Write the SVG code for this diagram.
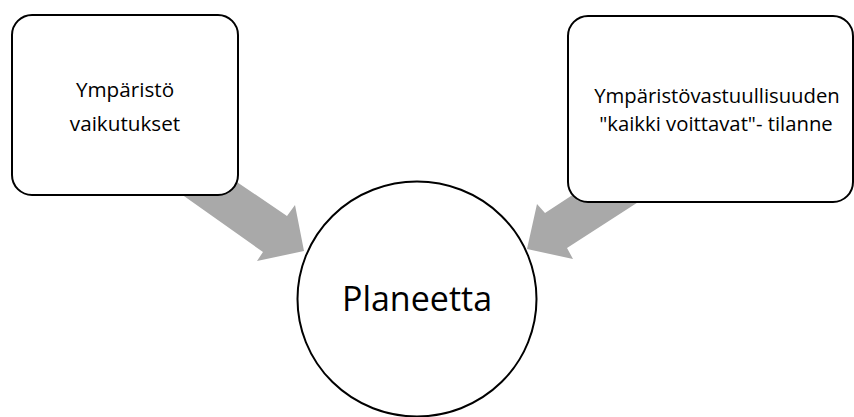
<svg xmlns="http://www.w3.org/2000/svg" width="854" height="417" viewBox="0 0 854 417">
<style>
.box{fill:#fff;stroke:#000;stroke-width:2}
.arrow{fill:#A9A9A9;stroke:none}
.t{font-family:"Open Sans","Noto Sans",sans-serif;font-size:20.7px;fill:#000;text-anchor:middle}
.r{font-size:20.3px}
.big{font-size:34px}
</style>
<rect width="854" height="417" fill="#fff"/>
<g id="connectors">
<polygon class="arrow" points="200,157 287,216 295,205 304,251 257,261 263,252 150,172"/>
<polygon class="arrow" points="600,177 545,213 537,204 527,249 573,259 567,248 660,188"/>
</g>
<g id="node-left">
<rect class="box" x="12" y="15" width="226" height="180" rx="20" ry="20"/>
<text class="t" x="125" y="97">Ympäristö</text>
<text class="t" x="125" y="131">vaikutukset</text>
</g>
<g id="node-right">
<rect class="box" x="568" y="16" width="285" height="186" rx="20" ry="20"/>
<text class="t r" x="717" y="103">Ympäristövastuullisuuden</text>
<text class="t r" x="716" y="131">"kaikki voittavat"- tilanne</text>
</g>
<g id="node-planet">
<ellipse class="box" cx="417" cy="299" rx="119.5" ry="117.5"/>
<text class="t big" x="417" y="311">Planeetta</text>
</g>
</svg>
